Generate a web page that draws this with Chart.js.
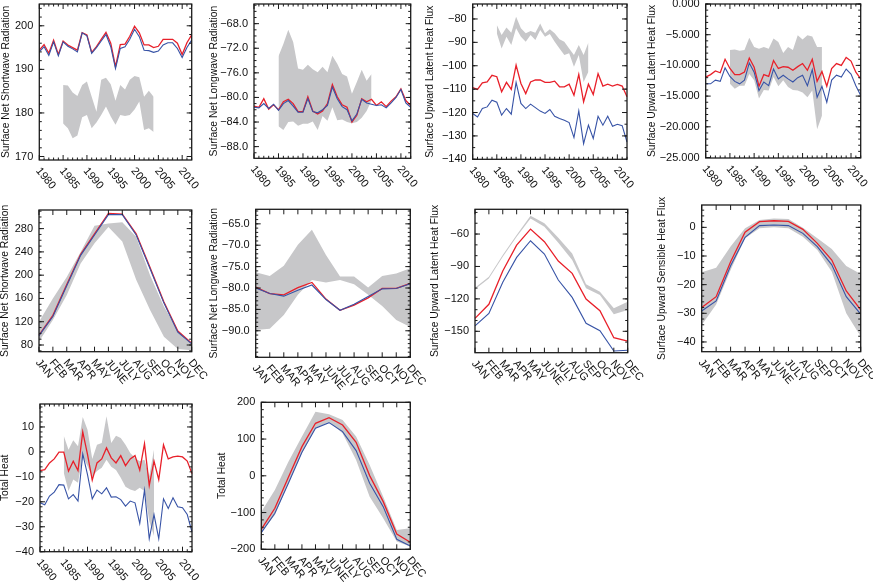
<!DOCTYPE html>
<html>
<head>
<meta charset="utf-8">
<script src="https://cdn.jsdelivr.net/npm/chart.js@4.4.0/dist/chart.umd.min.js"></script>
<style>
  html, body { margin: 0; padding: 0; background: #fff; }
  #wrap { position: relative; width: 873px; height: 582px; overflow: hidden; }
  #wrap canvas { position: absolute; left: 0; top: 0; }
</style>
</head>
<body>
<div id="wrap"></div>
<script>
// categories
var years = [1980, 1981, 1982, 1983, 1984, 1985, 1986, 1987, 1988, 1989,
             1990, 1991, 1992, 1993, 1994, 1995, 1996, 1997, 1998, 1999,
             2000, 2001, 2002, 2003, 2004, 2005, 2006, 2007, 2008, 2009,
             2010, 2011, 2012];
var months = ['JAN', 'FEB', 'MAR', 'APR', 'MAY', 'JUNE', 'JULY', 'AUG', 'SEP', 'OCT', 'NOV', 'DEC'];
var yearTicks = [1980, 1985, 1990, 1995, 2000, 2005, 2010];

// annual: surface net shortwave
var swYrRed  = [194.4, 195.7, 193.7, 196.7, 193.4, 196.5, 195.6, 195.0, 194.4, 198.4,
                197.9, 193.9, 195.2, 196.9, 198.5, 196.0, 190.6, 195.7, 195.8, 197.6,
                199.9, 198.4, 195.6, 195.6, 195.0, 195.3, 196.9, 196.9, 196.9, 196.0,
                193.4, 196.1, 197.9];
var swYrBlue = [194.0, 195.2, 193.2, 196.3, 193.1, 196.3, 195.3, 194.7, 194.0, 198.4,
                197.7, 193.7, 195.0, 196.5, 198.0, 195.2, 190.2, 194.8, 195.2, 196.9,
                199.2, 197.5, 194.4, 194.3, 193.9, 194.2, 195.6, 196.1, 196.1, 194.8,
                192.7, 195.0, 196.7];
var swYrLo = [null, null, null, null, null,
              177.6, 176.5, 174.2, 174.8, 179.0, 179.5, 176.5, 177.8, 179.5, 181.5,
              179.2, 177.3, 179.5, 179.3, 179.5, 180.8, 182.6, 176.1, 176.5, 175.6,
              null, null, null, null, null, null, null, null];
var swYrHi = [null, null, null, null, null,
              186.4, 186.3, 184.7, 183.9, 186.4, 187.2, 183.7, 180.3, 187.6, 188.1,
              186.6, 182.8, 186.4, 185.4, 187.6, 188.5, 188.2, 183.7, 185.1, 183.7,
              null, null, null, null, null, null, null, null];
var swYrTicks = [170, 180, 190, 200];

// annual: surface net longwave
var lwYrRed  = [-81.4, -81.6, -80.2, -81.9, -81.2, -82.0, -80.7, -80.3, -81.0, -82.3,
                -82.3, -79.9, -82.2, -82.7, -82.2, -81.0, -77.9, -79.9, -81.2, -81.6,
                -84.0, -82.9, -80.2, -80.7, -80.3, -81.3, -80.7, -81.5, -80.6, -79.9,
                -78.6, -80.5, -81.3];
var lwYrBlue = [-81.6, -81.7, -81.0, -81.8, -81.1, -82.1, -81.0, -80.5, -81.4, -82.4,
                -82.4, -80.2, -82.3, -82.5, -82.0, -81.3, -78.3, -80.2, -81.5, -82.0,
                -83.8, -82.7, -80.3, -80.9, -81.1, -81.3, -81.2, -81.7, -80.9, -80.0,
                -78.7, -80.9, -81.6];
var lwYrLo = [null, null, null, null, null,
              -84.7, -85.3, -84.0, -83.9, -84.6, -84.3, -84.3, -83.9, -85.3, -83.0,
              -83.8, -81.6, -83.7, -83.6, -84.0, -84.2, -84.0, -83.3, -82.2, -80.5,
              null, null, null, null, null, null, null, null];
var lwYrHi = [null, null, null, null, null,
              -73.3, -71.3, -69.0, -71.0, -75.3, -75.5, -74.7, -75.4, -75.9, -75.0,
              -75.9, -73.2, -74.5, -76.2, -76.6, -79.4, -77.5, -75.5, -77.3, -76.2,
              null, null, null, null, null, null, null, null];
var lwYrTicks = [-88, -84, -80, -76, -72, -68];

// annual: surface upward latent heat flux
var lhYrRed  = [-109.3, -110.1, -107.3, -106.9, -104.1, -104.7, -111.1, -107.1, -110.1, -99.7,
                -107.6, -111.9, -106.9, -106.1, -106.1, -107.1, -107.1, -106.6, -109.0, -109.0,
                -107.9, -112.6, -103.7, -115.4, -107.9, -112.3, -103.4, -108.7, -107.9, -108.7,
                -108.0, -108.7, -113.3];
var lhYrBlue = [-120.4, -121.9, -118.3, -117.6, -114.7, -115.6, -121.1, -118.3, -120.7, -107.1,
                -116.1, -118.3, -116.4, -117.9, -119.4, -120.4, -118.7, -121.6, -122.6, -123.3,
                -124.3, -130.7, -119.3, -133.3, -125.4, -131.1, -121.6, -125.4, -121.6, -125.9,
                -125.0, -125.6, -132.6];
var lhYrLo = [null, null, null, null, null,
              -86.1, -92.6, -87.6, -91.1, -84.0, -87.6, -89.7, -86.9, -89.0, -84.7,
              -87.6, -86.4, -89.7, -92.6, -95.4, -94.7, -100.4, -95.4, -106.9, -102.6,
              null, null, null, null, null, null, null, null];
var lhYrHi = [null, null, null, null, null,
              -82.6, -86.9, -83.7, -85.9, -79.0, -84.0, -86.1, -85.1, -85.9, -81.9,
              -86.1, -84.4, -86.1, -88.7, -89.7, -92.6, -95.4, -91.1, -95.4, -90.1,
              null, null, null, null, null, null, null, null];
var lhYrTicks = [-140, -130, -120, -110, -100, -90, -80];

// annual: fourth panel (labelled latent heat flux in the source)
var shYrRed  = [-11.9, -11.5, -10.9, -11.2, -9.0, -10.5, -11.5, -11.5, -11.1, -8.8,
                -10.3, -13.4, -11.5, -11.8, -9.2, -10.5, -10.2, -10.3, -10.8, -10.2,
                -9.7, -10.8, -9.0, -12.6, -11.0, -13.4, -10.5, -9.7, -10.0, -8.7,
                -9.3, -11.1, -12.2];
var shYrBlue = [-13.0, -13.0, -12.4, -12.6, -10.4, -11.8, -12.6, -13.0, -12.4, -9.6,
                -11.1, -14.1, -12.7, -13.3, -10.6, -12.2, -11.6, -12.2, -12.7, -12.0,
                -11.6, -13.3, -10.7, -15.2, -13.4, -16.0, -12.4, -11.6, -11.9, -10.6,
                -11.4, -13.3, -14.9];
var shYrLo = [null, null, null, null, null,
              -13.0, -13.8, -13.3, -13.3, -11.4, -12.4, -15.4, -14.0, -14.1, -11.9,
              -13.4, -12.4, -13.5, -14.0, -14.1, -14.4, -15.2, -14.1, -20.4, -18.2,
              null, null, null, null, null, null, null, null];
var shYrHi = [null, null, null, null, null,
              -7.5, -7.4, -7.6, -7.5, -5.5, -7.0, -7.3, -7.0, -7.3, -5.6,
              -6.2, -8.0, -7.0, -7.5, -5.1, -5.8, -5.1, -5.3, -7.0, -7.0,
              null, null, null, null, null, null, null, null];
var shYrTicks = [-25, -20, -15, -10, -5, 0];

// monthly climatologies
var swMoRed  = [97, 131, 184, 236, 271, 306, 305, 271, 213, 154, 104, 83];
var swMoBlue = [96, 129, 182, 234, 269, 304, 304, 269, 211, 152, 102, 82];
var swMoLo   = [86, 123, 166, 220, 255, 283, 258, 192, 140, 94, 73, 71];
var swMoHi   = [120, 160, 197, 240, 285, 289, 291, 266, 200, 146, 105, 83];
var swMoTicks = [80, 120, 160, 200, 240, 280];

var lwMoRed  = [-79.8, -81.3, -81.6, -79.9, -78.7, -82.6, -85.2, -84.0, -82.3, -80.1, -80.1, -78.9];
var lwMoBlue = [-80.0, -81.3, -81.9, -80.5, -79.3, -82.7, -85.2, -83.8, -82.0, -80.2, -80.1, -79.0];
var lwMoLo   = [-89.8, -89.5, -86.3, -81.6, -78.1, -78.7, -78.1, -79.1, -81.6, -84.2, -87.5, -89.1];
var lwMoHi   = [-76.3, -77.2, -74.8, -69.9, -66.4, -72.3, -77.3, -77.3, -79.9, -77.2, -76.6, -75.4];
var lwMoTicks = [-90, -85, -80, -75, -70, -65];

var lhMoRed  = [-138, -125, -94.2, -70.2, -55.4, -67.1, -85.0, -96.4, -120.1, -130.9, -155.9, -159];
var lhMoBlue = [-145, -133.4, -104.7, -81.6, -66.2, -78.5, -102.5, -118.6, -142.6, -149.4, -168.2, -167.6];
var lhMoLo   = [-111.2, -101.1, -81, -62.5, -45.5, -53.2, -68, -84, -110.2, -116.4, -134.3, -130.3];
var lhMoHi   = [-109.6, -99.5, -79.4, -60.9, -43.0, -50.1, -63.4, -77.9, -106.5, -113.3, -128.7, -122.6];
var lhMoTicks = [-150, -120, -90, -60];

var shMoRed  = [-28.0, -24.2, -12.0, -1.7, 2.0, 2.3, 2.1, -0.7, -5.6, -11.4, -22.2, -28.8];
var shMoBlue = [-29.2, -25.7, -13.4, -3.5, 0.6, 0.8, 0.6, -2.1, -6.7, -13.1, -24.2, -30.3];
var shMoLo   = [-34.1, -26.9, -14.9, -3.8, -0.3, 0, -0.3, -3.3, -7.9, -15.5, -30.0, -38.1];
var shMoHi   = [-15.7, -14.1, -6.7, -0.3, 2.6, 3.1, 2.9, -0.1, -3.8, -7.6, -13.5, -16.3];
var shMoTicks = [-40, -30, -20, -10, 0];

// total heat
var thYrRed  = [-7.5, -7.1, -4.4, -2.8, -0.1, -0.1, -7.7, -3.7, -7.5, 8.0,
                -1.0, -11.3, -4.4, -2.8, 1.6, -2.4, -4.4, -1.5, -5.5, -2.8,
                -1.5, -7.3, 3.3, -13.5, -3.7, -11.1, 2.8, -2.8, -2.0, -1.7,
                -2.0, -3.7, -8.7];
var thYrBlue = [-20.4, -21.2, -17.7, -16.1, -13.1, -13.3, -18.8, -17.1, -19.7, -0.8,
                -9.1, -18.8, -15.3, -16.8, -14.4, -18.1, -18.0, -19.1, -21.7, -19.7,
                -20.4, -28.7, -15.3, -34.8, -25.1, -34.8, -18.8, -22.7, -18.4, -22.0,
                -22.4, -25.1, -32.1];
var thYrLo = [null, null, null, null, null,
              -8.4, -15.7, -11.1, -12.4, -1.7, -5.7, -10.0, -7.7, -6.4, -3.1,
              -6.0, -7.3, -10.4, -14.0, -15.1, -15.7, -14.4, -15.7, -27.7, -33.7,
              null, null, null, null, null, null, null, null];
var thYrHi = [null, null, null, null, null,
              6.5, 0.9, 4.7, 2.3, 14.0, 8.9, -2.8, 2.9, 3.6, 14.3,
              3.6, 6.5, 5.6, 2.9, -0.4, -2.4, -3.7, -3.1, -9.7, 0.9,
              null, null, null, null, null, null, null, null];
var thYrTicks = [-40, -30, -20, -10, 0, 10];

var thMoRed  = [-145.6, -88.4, -4.1, 79.4, 142.9, 158.3, 138.3, 91.2, 0.5, -70.3, -158.3, -181];
var thMoBlue = [-154.6, -102, -20.4, 64, 129.3, 144.7, 120.2, 68.5, -20.4, -83.9, -172.8, -191];
var thMoLo   = [-154.6, -106.6, -20.4, 61.2, 129.3, 147.4, 115.6, 43.1, -56.7, -115.6, -179.1, -192.7];
var thMoHi   = [-97.5, -38.5, 38.5, 106.6, 174.6, 167.3, 151.9, 106.6, 29.5, -56.7, -147.4, -142.9];
var thMoTicks = [-200, -100, 0, 100, 200];

var RED = '#e8202a';
var BLUE = '#3753a6';
var GREY = '#c7c7c9';
var W = 873, H = 582;
var FONT = '"Liberation Sans", Arial, Helvetica, sans-serif';

// box = [left, top, right, bottom] of the plot frame
var panels = [
  { title: 'Surface Net Shortwave Radiation', annual: true, red: swYrRed, blue: swYrBlue, lo: swYrLo, hi: swYrHi,
    box: [39.3, 4, 191.7, 160], yMin: 169.2, yMax: 205, ticks: swYrTicks, minor: 2, dec: 0, titleX: 6 },
  { title: 'Surface Net Longwave Radiation', annual: true, red: lwYrRed, blue: lwYrBlue, lo: lwYrLo, hi: lwYrHi,
    box: [254, 4, 410.7, 158.3], yMin: -89.9, yMax: -64.8, ticks: lwYrTicks, minor: 1, dec: 1, titleX: 214.5 },
  { title: 'Surface Upward Latent Heat Flux', annual: true, red: lhYrRed, blue: lhYrBlue, lo: lhYrLo, hi: lhYrHi,
    box: [472.7, 4, 627, 159.3], yMin: -140, yMax: -73.6, ticks: lhYrTicks, minor: 5, dec: 0, titleX: 430 },
  { title: 'Surface Upward Latent Heat Flux', annual: true, red: shYrRed, blue: shYrBlue, lo: shYrLo, hi: shYrHi,
    box: [705.7, 4, 860.7, 158], yMin: -25.08, yMax: 0, ticks: shYrTicks, minor: 1, dec: 3, titleX: 652 },
  { title: 'Surface Net Shortwave Radiation', annual: false, red: swMoRed, blue: swMoBlue, lo: swMoLo, hi: swMoHi,
    box: [39, 210, 191.7, 351.7], yMin: 68.5, yMax: 312, ticks: swMoTicks, minor: 10, dec: 0, titleX: 5.5 },
  { title: 'Surface Net Longwave Radiation', annual: false, red: lwMoRed, blue: lwMoBlue, lo: lwMoLo, hi: lwMoHi,
    box: [255.7, 209.3, 410.3, 357.3], yMin: -96.2, yMax: -61.6, ticks: lwMoTicks, minor: 1, dec: 1, titleX: 214 },
  { title: 'Surface Upward Latent Heat Flux', annual: false, red: lhMoRed, blue: lhMoBlue, lo: lhMoLo, hi: lhMoHi,
    box: [475, 209.3, 627.7, 352.7], yMin: -169.8, yMax: -37.1, ticks: lhMoTicks, minor: 10, dec: 0, titleX: 435 },
  { title: 'Surface Upward Sensible Heat Flux', annual: false, red: shMoRed, blue: shMoBlue, lo: shMoLo, hi: shMoHi,
    box: [701.7, 205, 860.7, 351.7], yMin: -43.4, yMax: 7.8, ticks: shMoTicks, minor: 2, dec: 0, titleX: 662 },
  { title: 'Total Heat', annual: true, red: thYrRed, blue: thYrBlue, lo: thYrLo, hi: thYrHi,
    box: [40, 404, 192, 551.7], yMin: -40, yMax: 19.2, ticks: thYrTicks, minor: 2, dec: 0, titleX: 5 },
  { title: 'Total Heat', annual: false, red: thMoRed, blue: thMoBlue, lo: thMoLo, hi: thMoHi,
    box: [261.3, 402.3, 410.3, 549.3], yMin: -200, yMax: 200, ticks: thMoTicks, minor: 20, dec: 0, titleX: 222 }
];

function fmt(v, dec) {
  return v.toFixed(dec).replace('-', '\u2212');
}

// NCL-like frame: inward tickmarks on all four sides, rotated x labels, y title
function makeAxes(p) {
  return {
    id: 'nclAxes',
    afterDraw: function(chart) {
      var ctx = chart.ctx, a = chart.chartArea;
      var xs = chart.scales.x, ys = chart.scales.y;
      var cats = p.annual ? years : months;
      function seg(x1, y1, x2, y2) {
        ctx.beginPath(); ctx.moveTo(x1, y1); ctx.lineTo(x2, y2); ctx.stroke();
      }
      ctx.save();
      ctx.strokeStyle = '#1b1b1b';
      ctx.lineWidth = 1;

      // y minor + major ticks
      var k, v, py, px;
      for (k = Math.ceil(p.yMin / p.minor - 1e-6); k * p.minor <= p.yMax + 1e-6; k++) {
        py = ys.getPixelForValue(k * p.minor);
        seg(a.left, py, a.left + 2.5, py);
        seg(a.right, py, a.right - 2.5, py);
      }
      p.ticks.forEach(function(t) {
        py = ys.getPixelForValue(t);
        seg(a.left, py, a.left + 5, py);
        seg(a.right, py, a.right - 5, py);
      });

      // x ticks
      cats.forEach(function(c, i) {
        px = xs.getPixelForValue(i);
        var major = !p.annual || yearTicks.indexOf(c) >= 0;
        var len = major ? 5 : 2.5;
        seg(px, a.bottom, px, a.bottom - len);
        seg(px, a.top, px, a.top + len);
      });

      // frame
      ctx.lineWidth = 1.3;
      ctx.strokeRect(a.left, a.top, a.right - a.left, a.bottom - a.top);

      // y labels
      ctx.fillStyle = '#111';
      ctx.font = '11px ' + FONT;
      ctx.textAlign = 'right';
      ctx.textBaseline = 'middle';
      p.ticks.forEach(function(t) {
        ctx.fillText(fmt(t, p.dec), a.left - 6, ys.getPixelForValue(t));
      });

      // x labels, rotated down to the right
      ctx.textAlign = 'left';
      cats.forEach(function(c, i) {
        if (p.annual && yearTicks.indexOf(c) < 0) return;
        px = xs.getPixelForValue(i);
        ctx.save();
        ctx.translate(px - 1.5, a.bottom + 9);
        ctx.rotate(50 * Math.PI / 180);
        ctx.fillText(String(c), 0, 0);
        ctx.restore();
      });

      // y title
      ctx.save();
      ctx.font = '10.3px ' + FONT;
      ctx.textAlign = 'center';
      ctx.translate(p.titleX, (a.top + a.bottom) / 2);
      ctx.rotate(-Math.PI / 2);
      ctx.fillText(p.title, 0, 0);
      ctx.restore();

      ctx.restore();
    }
  };
}

var wrap = document.getElementById('wrap');
panels.forEach(function(p) {
  var cv = document.createElement('canvas');
  cv.width = W;
  cv.height = H;
  cv.style.width = W + 'px';
  cv.style.height = H + 'px';
  wrap.appendChild(cv);
  var labels = (p.annual ? years : months).map(String);
  new Chart(cv.getContext('2d'), {
    type: 'line',
    data: {
      labels: labels,
      datasets: [
        { data: p.lo, borderColor: 'rgba(0,0,0,0)', borderWidth: 0, pointRadius: 0, fill: false, order: 4 },
        { data: p.hi, borderColor: 'rgba(0,0,0,0)', borderWidth: 0, pointRadius: 0, fill: '-1',
          backgroundColor: GREY, order: 3 },
        { data: p.red, borderColor: RED, borderWidth: 1.3, pointRadius: 0, fill: false, order: 2 },
        { data: p.blue, borderColor: BLUE, borderWidth: 1.1, pointRadius: 0, fill: false, order: 1 }
      ]
    },
    options: {
      responsive: false,
      animation: false,
      devicePixelRatio: 1,
      layout: {
        padding: { left: p.box[0], top: p.box[1], right: W - p.box[2], bottom: H - p.box[3] }
      },
      scales: {
        x: { display: false, offset: false },
        y: { display: false, min: p.yMin, max: p.yMax }
      },
      elements: { line: { tension: 0 } },
      plugins: {
        legend: { display: false },
        tooltip: { enabled: false },
        filler: { propagate: false }
      }
    },
    plugins: [makeAxes(p)]
  });
});
</script>
</body>
</html>
